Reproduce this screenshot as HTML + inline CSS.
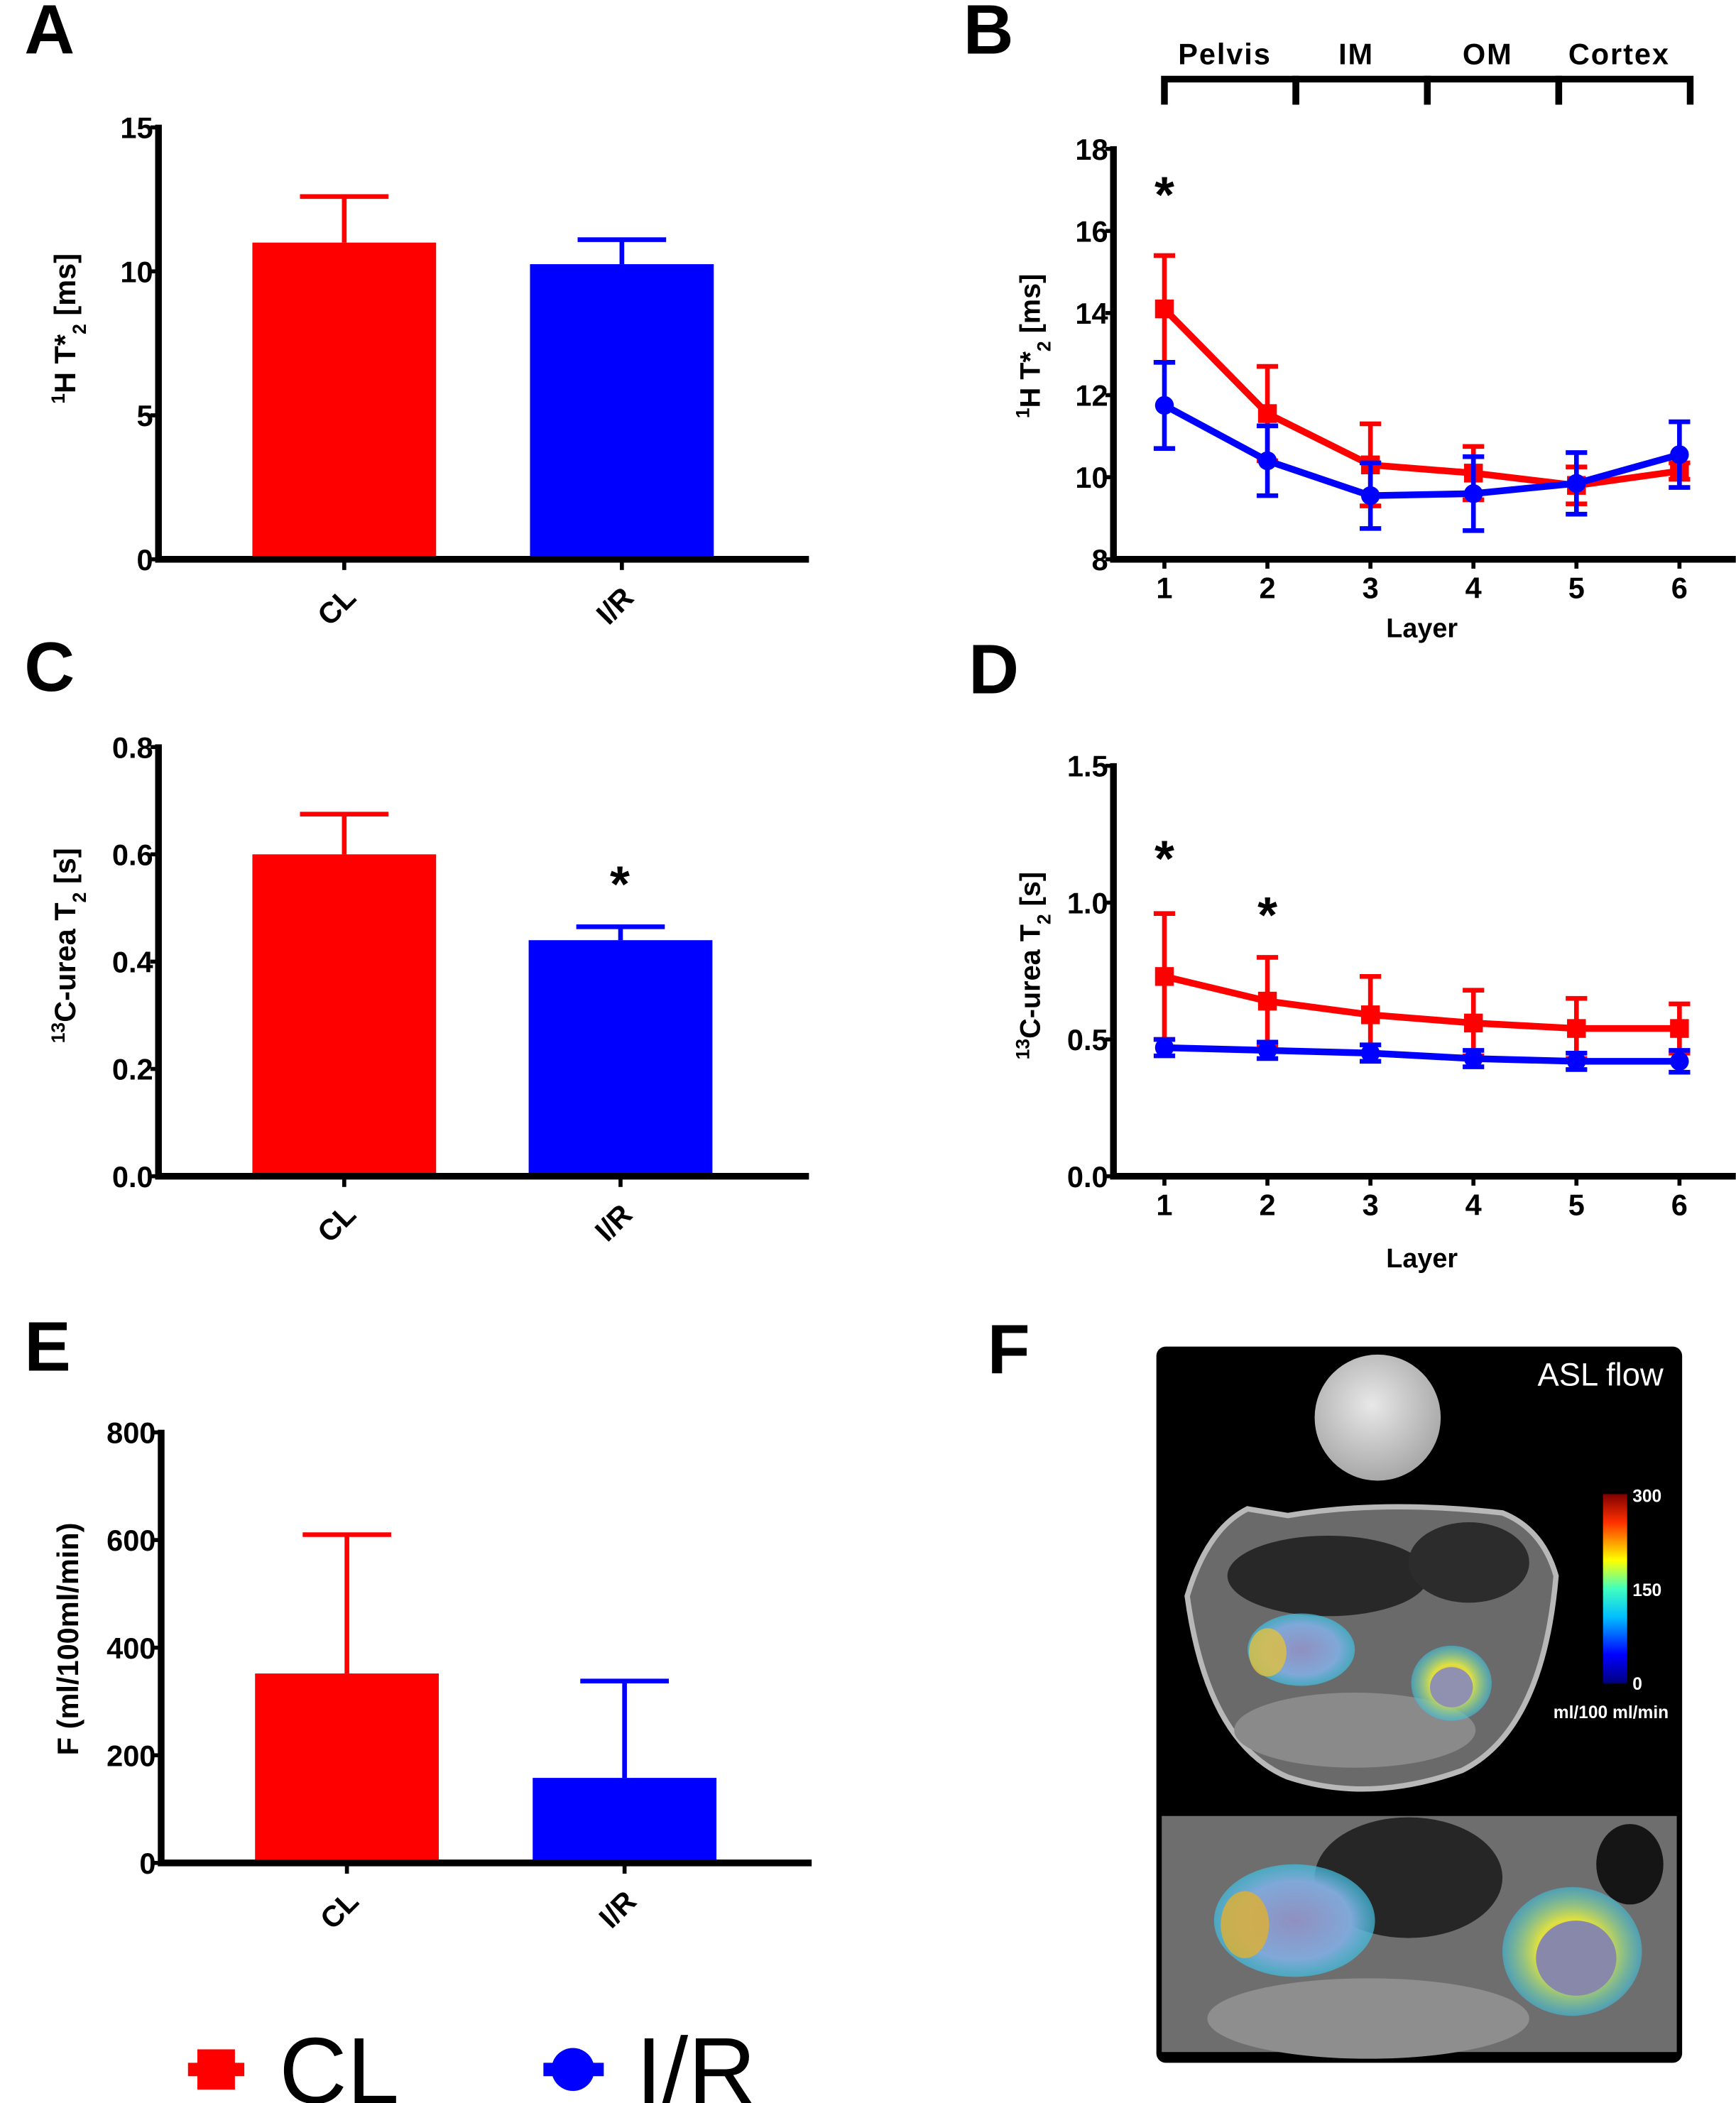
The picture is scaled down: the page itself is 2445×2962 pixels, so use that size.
<!DOCTYPE html>
<html><head><meta charset="utf-8"><style>
html,body{margin:0;padding:0;background:#fff}
svg{display:block}
text{font-family:"Liberation Sans",sans-serif;font-weight:bold}
</style></head><body>
<svg id="fig" xmlns="http://www.w3.org/2000/svg" width="2445" height="2962" viewBox="0 0 1294 1568">
<defs>
<linearGradient id="cbar" x1="0" y1="1" x2="0" y2="0">
<stop offset="0" stop-color="#00007f"/><stop offset="0.15" stop-color="#0000ff"/><stop offset="0.35" stop-color="#00bfff"/><stop offset="0.5" stop-color="#40ffbf"/><stop offset="0.65" stop-color="#ffff00"/><stop offset="0.85" stop-color="#ff3000"/><stop offset="1" stop-color="#800000"/>
</linearGradient>
<radialGradient id="phantom" cx="0.45" cy="0.4" r="0.6"><stop offset="0" stop-color="#e8e8e8"/><stop offset="1" stop-color="#a8a8a8"/></radialGradient>
<radialGradient id="hot" cx="0.5" cy="0.5" r="0.5"><stop offset="0" stop-color="#ff6020"/><stop offset="0.5" stop-color="#e0e040"/><stop offset="1" stop-color="#40c0e0" stop-opacity="0.6"/></radialGradient>
<radialGradient id="cool" cx="0.5" cy="0.5" r="0.5"><stop offset="0" stop-color="#9090c0"/><stop offset="0.7" stop-color="#80a8d8"/><stop offset="1" stop-color="#40c0e0" stop-opacity="0.7"/></radialGradient>
</defs>
<g id="root"></g>
</svg>
<script>
// Panel A
const catsAB = ["CL","I/R"];
const aMeans = [11.0, 10.25];
const aErr = [1.6, 0.85];
// Panel C
const cMeans = [0.60, 0.44];
const cErr = [0.075, 0.025];
// Panel E
const eMeans = [352, 158];
const eErr = [258, 180];
// Panel B
const layers = [1,2,3,4,5,6];
const bRed = [14.1, 11.55, 10.3, 10.1, 9.8, 10.15];
const bRedErr = [1.3, 1.15, 1.0, 0.65, 0.45, 0.2];
const bBlue = [11.75, 10.4, 9.55, 9.6, 9.85, 10.55];
const bBlueErr = [1.05, 0.85, 0.8, 0.9, 0.75, 0.8];
// Panel D
const dRed = [0.73, 0.64, 0.59, 0.56, 0.54, 0.54];
const dRedErr = [0.23, 0.16, 0.14, 0.12, 0.11, 0.09];
const dBlue = [0.47, 0.46, 0.45, 0.43, 0.42, 0.42];
const dBlueErr = [0.03, 0.03, 0.03, 0.03, 0.03, 0.04];
const aTicks = [0,5,10,15];
const bTicks = [8,10,12,14,16,18];
const cTicks = ["0.0","0.2","0.4","0.6","0.8"];
const dTicks = ["0.0","0.5","1.0","1.5"];
const eTicks = [0,200,400,600,800];
const regions = ["Pelvis","IM","OM","Cortex"];

const NS="http://www.w3.org/2000/svg";
const root=document.getElementById('root');
function mk(tag,attrs,parent,text){const e=document.createElementNS(NS,tag);for(const k in attrs)e.setAttribute(k,attrs[k]);if(text!==undefined)e.textContent=text;(parent||root).appendChild(e);return e;}
const RED="#ff0000", BLUE="#0000ff";

function letter(t,x,y){const e=mk('text',{x:x,y:y,'font-size':52},root,t);

}

function barPanel(id,ax,top,bot,xEnd,ticks,vmax,means,errs,barX,title,titleY,star){
  const g=mk('g',{});
  
  
  const y=v=>bot-(v/vmax)*(bot-top);
  means.forEach((m,i)=>{
    const x0=barX[i], w=137, col=i==0?RED:BLUE;
    const r=mk('rect',{x:x0,y:y(m),width:w,height:bot-y(m),fill:col},g);
    
    
    const cx=x0+w/2, ye=y(m+errs[i]);
    const eb=mk('path',{d:`M${cx},${y(m)}V${ye}M${cx-33},${ye}H${cx+33}`,stroke:col,'stroke-width':3.5,fill:'none'},g);
    
    
    mk('line',{x1:cx,y1:bot,x2:cx,y2:bot+8,stroke:'#000','stroke-width':3},g);
    const lb=mk('text',{x:0,y:0,'font-size':22,'text-anchor':'end',transform:`translate(${cx+10},${bot+30}) rotate(-45)`},g,catsAB[i]);
    
    
  });
  const axl=mk('path',{d:`M${ax},${top-2}V${bot}H${xEnd}`,stroke:'#000','stroke-width':5,fill:'none'},g);
  
  
  ticks.forEach(t=>{const v=parseFloat(t);const yy=y(v);
    mk('line',{x1:ax-6,y1:yy,x2:ax,y2:yy,stroke:'#000','stroke-width':3},g);
    const tl=mk('text',{x:ax-4,y:yy+8,'font-size':22,'text-anchor':'end'},g,String(t));
    
    });
  const tt=mk('text',{x:0,y:0,'font-size':22,'text-anchor':'middle',transform:`translate(${ax-62},${titleY}) rotate(-90)`},g);
  tt.innerHTML=title;
  
  
  if(star){const s=mk('text',{x:star[0],y:star[1],'font-size':38,'text-anchor':'middle'},g,'*');
    
    }
}

function linePanel(id,ax,top,bot,xEnd,ticks,vmin,vmax,red,redE,blue,blueE,title,titleY,xlabY,stars){
  const g=mk('g',{});
  
  
  const y=v=>bot-(v-vmin)/(vmax-vmin)*(bot-top);
  const x=l=>868+(l-1)*76.8;
  const axl=mk('path',{d:`M${ax},${top-2}V${bot}H${xEnd}`,stroke:'#000','stroke-width':5,fill:'none'},g);
  
  
  ticks.forEach(t=>{const yy=y(parseFloat(t));
    mk('line',{x1:ax-6,y1:yy,x2:ax,y2:yy,stroke:'#000','stroke-width':3},g);
    const tl=mk('text',{x:ax-4,y:yy+8,'font-size':22,'text-anchor':'end'},g,String(t));
    
    });
  layers.forEach(l=>{mk('line',{x1:x(l),y1:bot,x2:x(l),y2:bot+7,stroke:'#000','stroke-width':3},g);
    const tl=mk('text',{x:x(l),y:bot+29,'font-size':22,'text-anchor':'middle'},g,String(l));
    
    });
  const xl=mk('text',{x:1060,y:xlabY,'font-size':20,'text-anchor':'middle'},g,'Layer');
  
  
  const tt=mk('text',{x:0,y:0,'font-size':21,'text-anchor':'middle',transform:`translate(${ax-55},${titleY}) rotate(-90)`},g);
  tt.innerHTML=title;
  
  
  [[red,redE,RED,'cl'],[blue,blueE,BLUE,'ir']].forEach(([vals,errs,col,nm])=>{
    let d='';
    vals.forEach((v,i)=>{const xx=x(layers[i]),yy=y(v),e1=y(v+errs[i]),e2=y(v-errs[i]);
      const eb=mk('path',{d:`M${xx},${e1}V${e2}M${xx-8},${e1}H${xx+8}M${xx-8},${e2}H${xx+8}`,stroke:col,'stroke-width':3.5,fill:'none'},g);
      
      
      d+=(i?'L':'M')+xx+','+yy;});
    const ln=mk('path',{d:d,stroke:col,'stroke-width':5,fill:'none'},g);
    
    
    vals.forEach((v,i)=>{const xx=x(layers[i]),yy=y(v);
      const p= nm=='cl'? mk('rect',{x:xx-7,y:yy-7,width:14,height:14,fill:col},g) : mk('circle',{cx:xx,cy:yy,r:7,fill:col},g);
      
      });
  });
  stars.forEach(s=>{const st=mk('text',{x:x(s[0]),y:s[1],'font-size':38,'text-anchor':'middle'},g,'*');
    
    });
}

letter('A',18,40); letter('B',718,40); letter('C',18,515); letter('D',722,517); letter('E',18,1022); letter('F',736,1024);

barPanel('a',118,95,417,603,aTicks,15,aMeans,aErr,[188,395],'<tspan baseline-shift="super" font-size="14">1</tspan>H T*<tspan baseline-shift="sub" font-size="14">2</tspan> [ms]',245,null);
barPanel('c',118,557,877,603,cTicks,0.8,cMeans,cErr,[188,394],'<tspan baseline-shift="super" font-size="14">13</tspan>C-urea T<tspan baseline-shift="sub" font-size="14">2</tspan> [s]',705,[462,672]);
barPanel('e',120,1068,1389,605,eTicks,800,eMeans,eErr,[190,397],'F (ml/100ml/min)',1222,null);

linePanel('b',830,111,417,1294,bTicks,8,18,bRed,bRedErr,bBlue,bBlueErr,'<tspan baseline-shift="super" font-size="14">1</tspan>H T*<tspan baseline-shift="sub" font-size="14">2</tspan> [ms]',258,475,[[1,158]]);
linePanel('d',830,571,877,1294,dTicks,0,1.5,dRed,dRedErr,dBlue,dBlueErr,'<tspan baseline-shift="super" font-size="14">13</tspan>C-urea T<tspan baseline-shift="sub" font-size="14">2</tspan> [s]',720,945,[[1,653],[2,695]]);

// region brackets
const bg=mk('g',{});


const bx=[868,966,1064,1162,1260];
regions.forEach((r,i)=>{
  mk('path',{d:`M${bx[i]},78V59H${bx[i+1]}V78`,stroke:'#000','stroke-width':5,fill:'none'},bg);
  const t=mk('text',{x:(bx[i]+bx[i+1])/2-4,y:48,'font-size':22,'text-anchor':'middle','letter-spacing':1},bg,r);
  
  
});

// Panel F image approximation
const f=mk('g',{});


mk('rect',{x:862,y:1004,width:392,height:534,rx:7,fill:'#000'},f);
mk('circle',{cx:1027,cy:1057,r:47,fill:'url(#phantom)'},f);
mk('path',{d:'M885,1190 Q900,1140 930,1125 L960,1130 Q1030,1118 1120,1128 Q1150,1140 1160,1175 Q1150,1290 1090,1320 Q1020,1345 960,1325 Q900,1300 885,1190Z',fill:'#6a6a6a',stroke:'#b8b8b8','stroke-width':4},f);
mk('ellipse',{cx:990,cy:1175,rx:75,ry:30,fill:'#282828'},f);
mk('ellipse',{cx:1095,cy:1165,rx:45,ry:30,fill:'#2c2c2c'},f);
mk('ellipse',{cx:1010,cy:1290,rx:90,ry:28,fill:'#8a8a8a'},f);
mk('ellipse',{cx:970,cy:1230,rx:40,ry:27,fill:'url(#cool)'},f);
mk('ellipse',{cx:945,cy:1232,rx:14,ry:18,fill:'#e0c040',opacity:0.8},f);
mk('ellipse',{cx:1082,cy:1255,rx:30,ry:28,fill:'url(#hot)'},f);
mk('ellipse',{cx:1082,cy:1258,rx:16,ry:15,fill:'#9090b0'},f);
mk('rect',{x:1195,y:1114,width:18,height:141,fill:'url(#cbar)'},f);
[['300',1120],['150',1190],['0',1260]].forEach(([t,yy])=>{const e=mk('text',{x:1217,y:yy,'font-size':13,fill:'#fff'},f,t);

});
const u=mk('text',{x:1158,y:1281,'font-size':13,fill:'#fff'},f,'ml/100 ml/min');


const asl=mk('text',{x:1240,y:1033,'font-size':24,fill:'#fff','text-anchor':'end'},f,'ASL flow');
asl.style.fontWeight='normal';


mk('rect',{x:866,y:1354,width:384,height:176,fill:'#6e6e6e'},f);
mk('ellipse',{cx:1050,cy:1400,rx:70,ry:45,fill:'#262626'},f);
mk('ellipse',{cx:1215,cy:1390,rx:25,ry:30,fill:'#151515'},f);
mk('ellipse',{cx:1020,cy:1505,rx:120,ry:30,fill:'#8e8e8e'},f);
mk('ellipse',{cx:965,cy:1432,rx:60,ry:42,fill:'url(#cool)'},f);
mk('ellipse',{cx:928,cy:1435,rx:18,ry:25,fill:'#e0b030',opacity:0.8},f);
mk('ellipse',{cx:1172,cy:1455,rx:52,ry:48,fill:'url(#hot)'},f);
mk('ellipse',{cx:1175,cy:1460,rx:30,ry:28,fill:'#8888aa'},f);

// legend
const lg=mk('g',{});


const l1=mk('g',{},lg);


mk('line',{x1:140,y1:1543,x2:182,y2:1543,stroke:RED,'stroke-width':10},l1);
mk('rect',{x:147,y:1528,width:28,height:30,fill:RED},l1);
mk('text',{x:208,y:1568,'font-size':70,style:'font-weight:normal'},l1,'CL');
const l2=mk('g',{},lg);


mk('line',{x1:405,y1:1543,x2:450,y2:1543,stroke:BLUE,'stroke-width':10},l2);
mk('circle',{cx:427,cy:1543,r:16,fill:BLUE},l2);
mk('text',{x:474,y:1568,'font-size':70,style:'font-weight:normal'},l2,'I/R');
</script>
</body></html>
